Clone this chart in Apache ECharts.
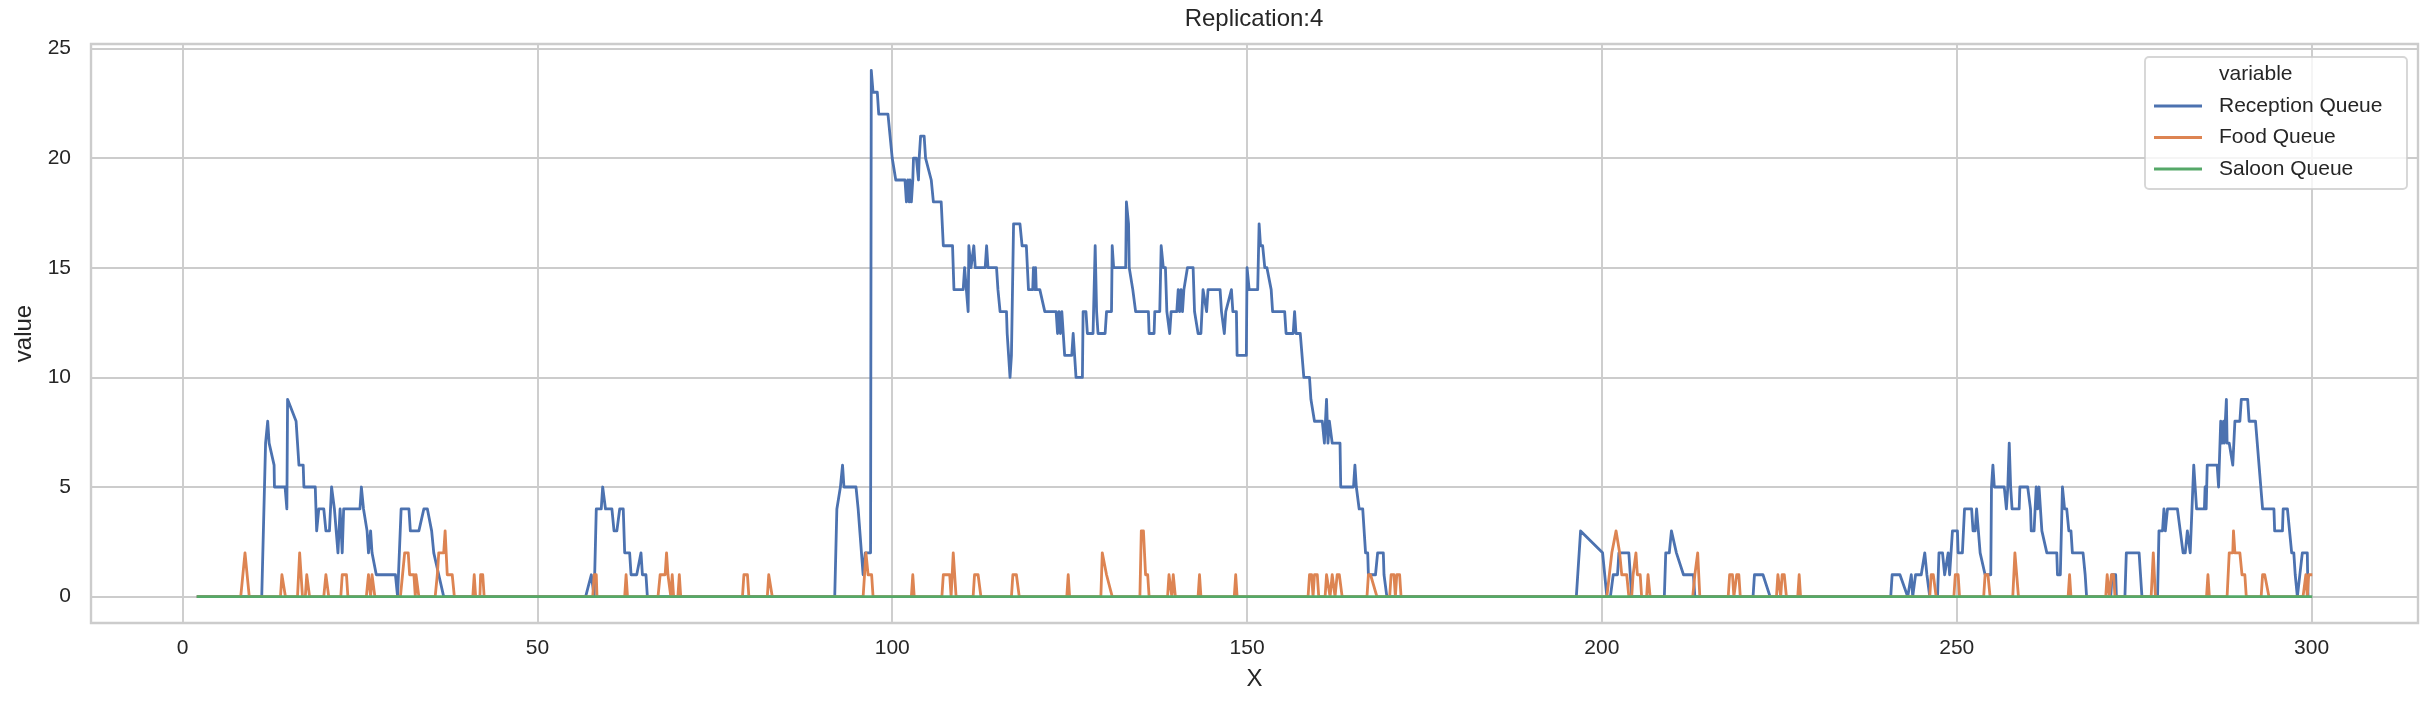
<!DOCTYPE html>
<html>
<head>
<meta charset="utf-8">
<title>Replication:4</title>
<script src="https://cdn.jsdelivr.net/npm/echarts@6/dist/echarts.min.js"></script>
<style>
  html, body { margin: 0; padding: 0; background: #ffffff; }
  #chart { width: 2431px; height: 709px; }
</style>
</head>
<body>
<div id="chart"></div>
<script>
// values, [time, queue length]
const receptionQueue = [
  [2, 0], [11.16, 0], [11.7, 7], [12.0, 8], [12.2, 7], [12.9, 6], [12.95, 5], [14.45, 5], [14.7, 4], [14.8, 9],
  [16.0, 8], [16.2, 7], [16.4, 6], [17.0, 6], [17.1, 5], [18.7, 5], [18.9, 3], [19.2, 4], [19.9, 4], [20.2, 3],
  [20.7, 3], [21.0, 5], [21.4, 4], [21.9, 2], [22.2, 4], [22.5, 2], [22.7, 4], [25.0, 4], [25.2, 5], [25.5, 4],
  [26.0, 3], [26.2, 2], [26.5, 3], [26.7, 2], [27.3, 1], [30.0, 1], [30.3, 0], [30.8, 4], [31.9, 4], [32.1, 3],
  [33.3, 3], [34.0, 4], [34.5, 4], [35.1, 3], [35.4, 2], [36.1, 1], [36.8, 0],
  [56.8, 0], [57.6, 1], [58.0, 0], [58.3, 4], [59.0, 4], [59.2, 5], [59.6, 4], [60.5, 4], [60.8, 3], [61.2, 3],
  [61.6, 4], [62.1, 4], [62.3, 2], [63.0, 2], [63.2, 1], [64.0, 1], [64.6, 2], [64.8, 1], [65.3, 1], [65.5, 0],
  [91.9, 0], [92.2, 4], [92.7, 5], [93.0, 6], [93.2, 5], [94.9, 5], [95.2, 4], [95.4, 4], [95.9, 1], [96.2, 2],
  [96.95, 2], [97.05, 24], [97.3, 23], [97.9, 23], [98.1, 22], [99.4, 22], [99.7, 21], [100.0, 20], [100.5, 19], [101.8, 19],
  [102.0, 18], [102.2, 19], [102.4, 18], [102.5, 19], [102.7, 18], [102.9, 19], [103.0, 20], [103.4, 20], [103.7, 19], [103.8, 20],
  [104.0, 21], [104.5, 21], [104.7, 20], [104.9, 20], [105.5, 19], [105.8, 18], [106.9, 18], [107.2, 16], [108.5, 16], [108.7, 14],
  [110.0, 14], [110.2, 15], [110.7, 13], [110.8, 16], [111.1, 15], [111.5, 16], [111.7, 15], [113.1, 15], [113.3, 16], [113.5, 15],
  [114.7, 15], [114.9, 14], [115.2, 13], [116.1, 13], [116.2, 12], [116.4, 11], [116.6, 10], [116.8, 11], [117.0, 11], [117.1, 17],
  [118.0, 17], [118.3, 16], [118.9, 16], [119.2, 14], [119.8, 14], [119.9, 15], [120.1, 14], [120.2, 15], [120.3, 14], [120.8, 14],
  [121.5, 13], [123.1, 13], [123.3, 12], [123.5, 13], [123.7, 12], [123.9, 13], [124.3, 11], [125.3, 11], [125.5, 12], [125.9, 10],
  [126.8, 10], [126.9, 13], [127.3, 13], [127.5, 12], [128.3, 12], [128.6, 16], [128.8, 13], [129.0, 12], [130.0, 12], [130.2, 13],
  [130.9, 13], [131.0, 16], [131.2, 15], [132.9, 15], [133.0, 18], [133.3, 17], [133.4, 15], [133.9, 14], [134.3, 13], [136.1, 13],
  [136.2, 12], [136.9, 12], [137.0, 13], [137.7, 13], [137.9, 16], [138.2, 15], [138.5, 15], [138.7, 13], [139.1, 12], [139.3, 13],
  [140.1, 13], [140.3, 14], [140.5, 13], [140.7, 14], [140.9, 13], [141.1, 14], [141.6, 15], [142.4, 15], [142.6, 13], [143.1, 12],
  [143.5, 12], [143.8, 14], [144.3, 13], [144.5, 14], [146.2, 14], [146.4, 13], [146.6, 13], [146.8, 12], [147.0, 13], [147.8, 14],
  [148.0, 13], [148.5, 13], [148.6, 11], [149.9, 11], [150.0, 15], [150.3, 14], [151.5, 14], [151.7, 17], [151.9, 16], [152.2, 16],
  [152.5, 15], [152.8, 15], [153.4, 14], [153.6, 13], [155.3, 13], [155.5, 12], [156.5, 12], [156.7, 13], [156.9, 12], [157.5, 12],
  [158.0, 10], [158.8, 10], [159.0, 9], [159.2, 9], [159.5, 8], [160.6, 8], [160.9, 7], [161.2, 9], [161.4, 7], [161.6, 8],
  [162.0, 7], [163.1, 7], [163.2, 5], [165.0, 5], [165.2, 6], [165.4, 5], [165.8, 4], [166.3, 4], [166.7, 2], [167.0, 2],
  [167.1, 1], [168.1, 1], [168.4, 2], [169.2, 2], [169.3, 1], [169.5, 1], [169.7, 0],
  [196.4, 0], [197.0, 3], [200.1, 2], [200.7, 0], [201.2, 0], [201.6, 1], [202.2, 1], [202.4, 2], [203.8, 2], [204.2, 0],
  [208.8, 0], [209.0, 2], [209.5, 2], [209.8, 3], [210.5, 2], [211.5, 1], [212.9, 1], [213.1, 0], [221.3, 0], [221.5, 1],
  [222.7, 1], [223.7, 0], [240.7, 0], [240.9, 1], [242.0, 1], [243.1, 0], [243.6, 1], [243.8, 0], [244.2, 1], [245.0, 1],
  [245.5, 2], [245.8, 1], [246.2, 0], [247.3, 0], [247.5, 2], [248.0, 2], [248.3, 1], [248.8, 2], [249.0, 1], [249.4, 3],
  [250.1, 3], [250.2, 2], [250.8, 2], [251.1, 4], [252.1, 4], [252.3, 3], [252.6, 3], [252.8, 4], [253.0, 4], [253.3, 2],
  [253.5, 2], [254.0, 1], [254.8, 1], [254.9, 5], [255.1, 6], [255.3, 5], [256.7, 5], [257.0, 4], [257.2, 5], [257.4, 7],
  [257.6, 5], [257.8, 4], [258.8, 4], [258.9, 5], [260.0, 5], [260.4, 4], [260.5, 3], [260.9, 3], [261.2, 5], [261.4, 4],
  [261.6, 5], [262.0, 3], [262.2, 3], [262.7, 2], [264.1, 2], [264.2, 1], [264.6, 1], [264.9, 5], [265.2, 4], [265.5, 4],
  [265.8, 3], [266.1, 3], [266.3, 2], [267.8, 2], [268.1, 1], [268.3, 0], [271.7, 0], [271.9, 1], [272.4, 1], [272.5, 0],
  [273.7, 0], [273.9, 2], [275.7, 2], [275.9, 1], [276.1, 0], [278.3, 0], [278.5, 3], [279.0, 3], [279.2, 4], [279.4, 3],
  [279.7, 4], [281.1, 4], [281.5, 3], [281.9, 2], [282.2, 2], [282.5, 3], [282.9, 2], [283.1, 2], [283.4, 6], [283.8, 4],
  [284.9, 4], [285.0, 5], [285.15, 4], [285.3, 6], [286.7, 6], [286.9, 5], [287.2, 8], [287.4, 7], [287.6, 8], [287.7, 7],
  [288.0, 9], [288.1, 7], [288.4, 7], [288.9, 6], [289.2, 8], [289.9, 8], [290.1, 9], [291.0, 9], [291.2, 8], [292.1, 8],
  [292.6, 6], [293.1, 4], [294.7, 4], [294.8, 3], [295.9, 3], [296.0, 4], [296.6, 4], [296.9, 3], [297.2, 2], [297.5, 2],
  [297.7, 1], [298.0, 0], [298.7, 2], [299.4, 2], [299.5, 0]
];

const foodQueue = [
  [2, 0], [8.2, 0], [8.8, 2], [9.4, 0], [13.8, 0], [14.0, 1], [14.5, 0], [16.2, 0], [16.5, 2], [16.9, 0],
  [17.3, 0], [17.5, 1], [17.9, 0], [19.9, 0], [20.2, 1], [20.6, 0], [22.3, 0], [22.5, 1], [23.1, 1], [23.3, 0],
  [25.9, 0], [26.2, 1], [26.5, 0], [26.7, 1], [27.1, 0], [30.7, 0], [31.0, 1], [31.3, 2], [31.8, 2], [32.0, 1],
  [32.6, 1], [32.8, 0], [32.9, 1], [33.1, 1], [33.3, 0], [35.6, 0], [35.9, 1], [36.1, 2], [36.8, 2], [37.0, 3],
  [37.3, 1], [38.0, 1], [38.3, 0], [40.9, 0], [41.1, 1], [41.3, 0], [41.9, 0], [42.0, 1], [42.3, 1], [42.5, 0],
  [57.8, 0], [58.0, 1], [58.3, 1], [58.4, 0], [62.3, 0], [62.5, 1], [62.7, 0], [67.0, 0], [67.3, 1], [68.0, 1],
  [68.2, 2], [68.4, 1], [68.6, 1], [68.8, 0], [69.0, 1], [69.2, 0], [69.8, 0], [70.0, 1], [70.2, 0], [78.9, 0],
  [79.1, 1], [79.6, 1], [79.8, 0], [82.4, 0], [82.6, 1], [83.1, 0], [95.9, 0], [96.1, 1], [96.3, 2], [96.6, 1],
  [97.1, 1], [97.3, 0], [102.7, 0], [102.9, 1], [103.1, 0], [107.0, 0], [107.2, 1], [108.1, 1], [108.3, 0], [108.6, 2],
  [109.0, 0], [111.4, 0], [111.6, 1], [112.1, 1], [112.5, 0], [116.8, 0], [117.0, 1], [117.5, 1], [117.9, 0], [124.6, 0],
  [124.8, 1], [125.0, 0], [129.4, 0], [129.6, 2], [130.2, 1], [131.0, 0], [134.9, 0], [135.1, 3], [135.4, 3], [135.7, 1],
  [136.0, 1], [136.2, 0], [138.8, 0], [139.0, 1], [139.2, 1], [139.4, 0], [139.6, 1], [139.9, 0], [143.1, 0], [143.3, 1],
  [143.5, 0], [148.2, 0], [148.4, 1], [148.6, 0], [158.6, 0], [158.8, 1], [159.1, 1], [159.3, 0], [159.5, 1], [159.9, 1],
  [160.1, 0], [161.0, 0], [161.2, 1], [161.4, 1], [161.7, 0], [162.0, 1], [162.4, 0], [162.7, 1], [163.0, 1], [163.4, 0],
  [166.9, 0], [167.1, 1], [167.4, 1], [168.3, 0], [170.1, 0], [170.3, 1], [170.7, 1], [170.9, 0], [171.1, 1], [171.5, 1],
  [171.7, 0], [200.7, 0], [201.4, 2], [202.0, 3], [202.2, 3], [202.5, 2], [202.8, 1], [203.5, 1], [203.8, 0], [204.2, 0],
  [204.4, 1], [204.8, 2], [205.0, 1], [205.4, 1], [205.6, 0], [206.3, 0], [206.5, 1], [206.8, 0], [212.8, 0], [213.1, 1],
  [213.5, 2], [213.8, 0], [217.8, 0], [218.0, 1], [218.4, 1], [218.6, 0], [218.8, 0], [219.0, 1], [219.3, 1], [219.5, 0],
  [224.6, 0], [224.8, 1], [225.0, 1], [225.2, 0], [225.4, 1], [225.7, 1], [226.0, 0], [227.6, 0], [227.8, 1], [228.0, 0],
  [246.2, 0], [246.4, 1], [246.7, 1], [247.1, 0], [249.6, 0], [249.8, 1], [250.2, 1], [250.4, 0], [253.8, 0], [254.0, 1],
  [254.4, 1], [254.7, 0], [257.9, 0], [258.2, 2], [258.7, 0], [265.7, 0], [265.9, 1], [266.1, 0], [271.0, 0], [271.2, 1],
  [271.5, 0], [271.8, 1], [272.1, 1], [272.3, 0], [277.4, 0], [277.7, 2], [278.0, 0], [285.2, 0], [285.4, 1], [285.6, 0],
  [288.1, 0], [288.4, 2], [288.9, 2], [289.0, 3], [289.2, 2], [289.9, 2], [290.2, 1], [290.6, 1], [290.8, 0], [292.9, 0],
  [293.1, 1], [293.4, 1], [294.0, 0], [298.8, 0], [299.2, 1], [299.4, 0], [299.6, 1], [300.1, 1]
];

const saloonQueue = [
  [2, 0], [50, 0], [100, 0], [150, 0], [200, 0], [250, 0], [300.1, 0]
];

const seriesNames = ["Reception Queue", "Food Queue", "Saloon Queue"];
const legendTitle = "variable";
const chartTitle = "Replication:4";
const xAxisName = "X";
const yAxisName = "value";

const SERIES_COLORS = ["#4c72b0", "#dd8452", "#55a868"];
const FONT = "'Liberation Sans', Arial, sans-serif";
const TEXT_COLOR = "#262626";
const GRID_COLOR = "#cccccc";

const chart = echarts.init(document.getElementById("chart"), null, { renderer: "canvas" });

function tickLabel(step) {
  return (value) => {
    const rounded = Math.round(value);
    return Math.abs(value - rounded) < 1e-6 && rounded % step === 0 ? String(rounded) : "";
  };
}

function buildSeries(name, data, color) {
  return {
    name,
    type: "line",
    data,
    showSymbol: false,
    symbol: "none",
    smooth: false,
    color,
    lineStyle: { color, width: 2.8, join: "round" },
    emphasis: { disabled: true }
  };
}

const seriesData = [receptionQueue, foodQueue, saloonQueue];

chart.setOption({
  animation: false,
  backgroundColor: "#ffffff",
  textStyle: { fontFamily: FONT, color: TEXT_COLOR },
  title: {
    text: chartTitle,
    left: 1254,
    top: 7,
    textAlign: "center",
    padding: 0,
    textStyle: { fontFamily: FONT, fontSize: 24, fontWeight: "normal", color: TEXT_COLOR }
  },
  grid: {
    left: 91,
    right: 13,
    top: 44,
    bottom: 86,
    show: true,
    borderColor: GRID_COLOR,
    borderWidth: 2.4,
    backgroundColor: "transparent"
  },
  xAxis: {
    type: "value",
    min: -12.9,
    max: 315.0,
    splitNumber: 6,
    name: xAxisName,
    nameLocation: "middle",
    nameGap: 44,
    nameTextStyle: { fontFamily: FONT, fontSize: 24, color: TEXT_COLOR },
    axisLine: { show: false },
    axisTick: { show: false },
    axisLabel: {
      showMinLabel: false,
      showMaxLabel: false,
      margin: 15,
      fontFamily: FONT,
      fontSize: 21,
      color: TEXT_COLOR,
      formatter: tickLabel(50)
    },
    splitLine: { show: true, lineStyle: { color: GRID_COLOR, width: 1.9 } }
  },
  yAxis: {
    type: "value",
    min: -1.2,
    max: 25.2,
    splitNumber: 5,
    name: yAxisName,
    nameLocation: "middle",
    nameGap: 52,
    nameTextStyle: { fontFamily: FONT, fontSize: 24, color: TEXT_COLOR },
    axisLine: { show: false },
    axisTick: { show: false },
    axisLabel: {
      showMinLabel: false,
      showMaxLabel: false,
      margin: 20,
      fontFamily: FONT,
      fontSize: 21,
      color: TEXT_COLOR,
      formatter: tickLabel(5)
    },
    splitLine: { show: true, lineStyle: { color: GRID_COLOR, width: 1.9 } }
  },
  legend: {
    data: seriesNames,
    orient: "vertical",
    left: 2154,
    top: 95,
    padding: 0,
    itemWidth: 48,
    itemHeight: 3,
    itemGap: 9.5,
    icon: "rect",
    selectedMode: false,
    z: 20,
    textStyle: { fontFamily: FONT, fontSize: 21, lineHeight: 22, color: TEXT_COLOR, padding: [0, 0, 0, 12] }
  },
  graphic: [
    {
      type: "rect",
      z: 15,
      shape: { x: 2145, y: 57, width: 262, height: 132, r: 4 },
      style: { fill: "rgba(255,255,255,0.8)", stroke: "rgba(204,204,204,0.8)", lineWidth: 1.9 }
    },
    {
      type: "text",
      z: 16,
      x: 2219,
      y: 74,
      style: {
        text: legendTitle,
        fontFamily: FONT,
        fontSize: 21,
        fill: TEXT_COLOR,
        align: "left",
        verticalAlign: "middle"
      }
    }
  ],
  series: seriesNames.map((name, i) => buildSeries(name, seriesData[i], SERIES_COLORS[i]))
});
</script>
</body>
</html>
